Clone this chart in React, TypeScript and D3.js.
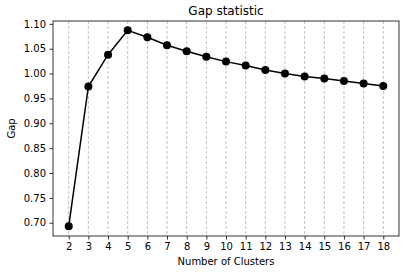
import { useEffect, useRef } from "react";
import * as d3 from "d3";

const clusters = [2, 3, 4, 5, 6, 7, 8, 9, 10, 11, 12, 13, 14, 15, 16, 17, 18];
const gap = [
  0.693, 0.974, 1.038, 1.087, 1.073, 1.057, 1.045, 1.034, 1.024, 1.016, 1.007,
  1.0, 0.994, 0.99, 0.985, 0.98, 0.975,
];
const yTicks = [0.7, 0.75, 0.8, 0.85, 0.9, 0.95, 1.0, 1.05, 1.1];

const App = () => {
  const ref = useRef<SVGSVGElement | null>(null);

  useEffect(() => {
    if (!ref.current) return;
    const svg = d3.select(ref.current);
    svg.selectAll("*").remove();

    const width = 407;
    const height = 272;
    const margin = { top: 21, right: 8, bottom: 36, left: 53 };
    const font = "DejaVu Sans, sans-serif";

    const x = d3
      .scaleLinear()
      .domain([1.2, 18.8])
      .range([margin.left, width - margin.right]);
    const y = d3
      .scaleLinear()
      .domain([0.6733, 1.1057])
      .range([height - margin.bottom, margin.top]);

    // vertical dashed grid
    svg
      .append("g")
      .selectAll("line")
      .data(clusters)
      .enter()
      .append("line")
      .attr("x1", (d) => x(d))
      .attr("x2", (d) => x(d))
      .attr("y1", margin.top)
      .attr("y2", height - margin.bottom)
      .attr("stroke", "#b0b0b0")
      .attr("stroke-width", 0.8)
      .attr("stroke-dasharray", "3,2");

    const line = d3
      .line<number>()
      .x((_, i) => x(clusters[i]))
      .y((d) => y(d));

    svg
      .append("path")
      .datum(gap)
      .attr("fill", "none")
      .attr("stroke", "black")
      .attr("stroke-width", 1.5)
      .attr("d", line);

    svg
      .selectAll("circle")
      .data(gap)
      .enter()
      .append("circle")
      .attr("cx", (_, i) => x(clusters[i]))
      .attr("cy", (d) => y(d))
      .attr("r", 4)
      .attr("fill", "black");

    // frame
    svg
      .append("rect")
      .attr("x", margin.left)
      .attr("y", margin.top)
      .attr("width", width - margin.left - margin.right)
      .attr("height", height - margin.top - margin.bottom)
      .attr("fill", "none")
      .attr("stroke", "black")
      .attr("stroke-width", 0.8);

    const xAxis = svg
      .append("g")
      .attr("transform", `translate(0,${height - margin.bottom})`)
      .call(
        d3
          .axisBottom(x)
          .tickValues(clusters)
          .tickFormat(d3.format("d"))
          .tickSize(3.5)
          .tickPadding(3.5)
      );
    xAxis.select(".domain").remove();

    const yAxis = svg
      .append("g")
      .attr("transform", `translate(${margin.left},0)`)
      .call(
        d3
          .axisLeft(y)
          .tickValues(yTicks)
          .tickFormat(d3.format(".2f"))
          .tickSize(3.5)
          .tickPadding(3.5)
      );
    yAxis.select(".domain").remove();

    svg
      .selectAll(".tick text")
      .attr("font-family", font)
      .attr("font-size", 10)
      .attr("fill", "black");
    svg.selectAll(".tick line").attr("stroke", "black").attr("stroke-width", 0.8);

    svg
      .append("text")
      .attr("x", (margin.left + width - margin.right) / 2)
      .attr("y", 15)
      .attr("text-anchor", "middle")
      .attr("font-family", font)
      .attr("font-size", 12)
      .text("Gap statistic");

    svg
      .append("text")
      .attr("x", (margin.left + width - margin.right) / 2)
      .attr("y", 265)
      .attr("text-anchor", "middle")
      .attr("font-family", font)
      .attr("font-size", 10)
      .text("Number of Clusters");

    svg
      .append("text")
      .attr("transform", `translate(15,${(margin.top + height - margin.bottom) / 2}) rotate(-90)`)
      .attr("text-anchor", "middle")
      .attr("font-family", font)
      .attr("font-size", 10)
      .text("Gap");
  }, []);

  return (
    <svg
      ref={ref}
      width={407}
      height={272}
      style={{ position: "absolute", left: 0, top: 0, background: "white" }}
    />
  );
};

export default App;
